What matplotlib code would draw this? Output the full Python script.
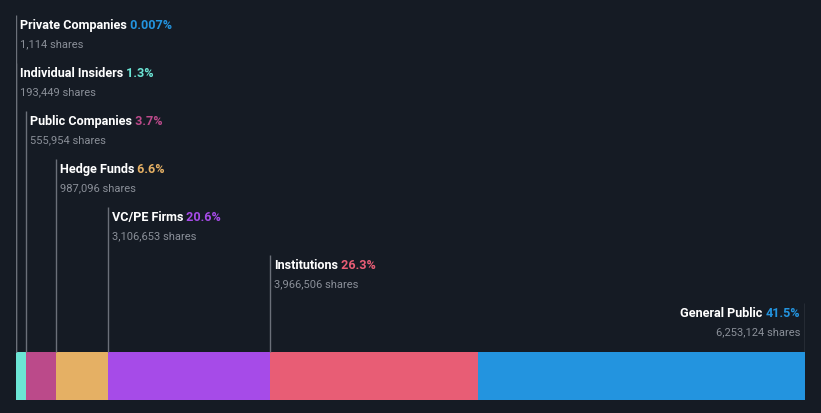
import matplotlib
matplotlib.use("Agg")
import matplotlib.pyplot as plt
import numpy as np

categories = ["Private Companies", "Individual Insiders", "Public Companies", "Hedge Funds",
              "VC/PE Firms", "Institutions", "General Public"]
percents = [0.007, 1.3, 3.7, 6.6, 20.6, 26.3, 41.5]
pct_labels = ["0.007%", "1.3%", "3.7%", "6.6%", "20.6%", "26.3%", "41.5%"]
shares = ["1,114", "193,449", "555,954", "987,096", "3,106,653", "3,966,506", "6,253,124"]
colors = ["#2394df", "#6ce5d5", "#bb4a8a", "#e5b064", "#a64be8", "#e85d75", "#2394df"]

BG = "#151b24"
W, H = 821, 414
fig = plt.figure(figsize=(W / 100, H / 100), dpi=100, facecolor=BG)
ax = fig.add_axes([16 / W, 0, 789 / W, 1])
ax.set_facecolor(BG)
total = sum(percents)
lefts = np.concatenate([[0], np.cumsum(percents)[:-1]])
ax.barh([376.5], percents, left=lefts, height=48, color=colors, linewidth=0)
ax.set_xlim(0, total)
ax.set_ylim(H, 0)
ax.axis("off")

title_y0, step = 25.5, 48
fig.canvas.draw()
renderer = fig.canvas.get_renderer()
n = len(categories)
TFS = 9.1
for i, (cat, p, pl, sh, c) in enumerate(zip(categories, percents, pct_labels, shares, colors)):
    ty = title_y0 + step * i
    sy = ty + 19
    last = (i == n - 1)
    lx = lefts[i] + p if last else lefts[i]
    ax.vlines(lx, ty - 10, 352.5, color="#6b7079", linewidth=1)
    if not last:
        t = ax.annotate(cat, (lx, ty), xytext=(4, 0), textcoords="offset pixels",
                        ha="left", va="center", color="white", fontsize=TFS,
                        fontweight="bold", family="Roboto", annotation_clip=False)
        bb = t.get_window_extent(renderer)
        ax.annotate(" " + pl, (lx, ty), xytext=(4 + bb.width, 0), textcoords="offset pixels",
                    ha="left", va="center", color=c, fontsize=TFS, fontweight="bold",
                    family="Roboto", annotation_clip=False)
        ax.annotate(sh + " shares", (lx, sy), xytext=(4, 0), textcoords="offset pixels",
                    ha="left", va="center", color="#8a8f98", fontsize=8, family="Roboto",
                    annotation_clip=False)
    else:
        t = ax.annotate(pl, (lx, ty), xytext=(-5, 0), textcoords="offset pixels",
                        ha="right", va="center", color=c, fontsize=TFS, fontweight="bold",
                        family="Roboto", annotation_clip=False)
        bb = t.get_window_extent(renderer)
        ax.annotate(cat + " ", (lx, ty), xytext=(-5 - bb.width, 0), textcoords="offset pixels",
                    ha="right", va="center", color="white", fontsize=TFS, fontweight="bold",
                    family="Roboto", annotation_clip=False)
        ax.annotate(sh + " shares", (lx, sy), xytext=(-5, 0), textcoords="offset pixels",
                    ha="right", va="center", color="#8a8f98", fontsize=8, family="Roboto",
                    annotation_clip=False)

fig.savefig("out.png", dpi=100, facecolor=BG)
